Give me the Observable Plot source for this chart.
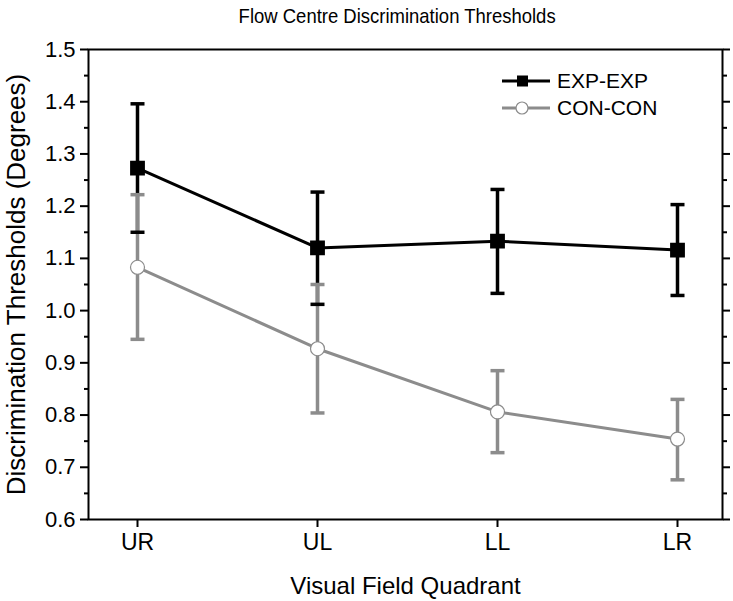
<!DOCTYPE html>
<html><head><meta charset="utf-8">
<script src="https://cdn.jsdelivr.net/npm/d3@7"></script>
<script src="https://cdn.jsdelivr.net/npm/@observablehq/plot@0.6"></script>
<style>
body{margin:0;background:#fff;font-family:"Liberation Sans",Arial,sans-serif;}
#title{width:733px;height:30px;box-sizing:border-box;padding-left:62px;padding-top:1px;text-align:center;font-size:21px;line-height:30px;color:#000;}
#title span{display:inline-block;transform:scaleX(0.88);transform-origin:center;white-space:nowrap;}
</style></head>
<body>
<div id="title"><span>Flow Centre Discrimination Thresholds</span></div>
<div id="chart"></div>
<script>
const quadrants = ["UR", "UL", "LL", "LR"];
const seriesNames = ["EXP-EXP", "CON-CON"];
const expMean = [1.273, 1.120, 1.133, 1.116];
const expHigh = [1.396, 1.227, 1.232, 1.203];
const expLow  = [1.150, 1.012, 1.033, 1.029];
const conMean = [1.083, 0.927, 0.806, 0.754];
const conHigh = [1.222, 1.050, 0.885, 0.830];
const conLow  = [0.945, 0.804, 0.728, 0.676];
const majorTicks = [0.6, 0.7, 0.8, 0.9, 1.0, 1.1, 1.2, 1.3, 1.4, 1.5];
const minorTicks = [0.65, 0.75, 0.85, 0.95, 1.05, 1.15, 1.25, 1.35, 1.45];

const GRAY = "#8c8c8c";
const exp = quadrants.map((q, i) => ({q, m: expMean[i], hi: expHigh[i], lo: expLow[i]}));
const con = quadrants.map((q, i) => ({q, m: conMean[i], hi: conHigh[i], lo: conLow[i]}));
const capSymbol = {draw(ctx, size) { const w = Math.sqrt(size / Math.PI); ctx.moveTo(-w, 0); ctx.lineTo(w, 0); }};
const capsOf = (data, color) => [
  Plot.dot(data, {x: "q", y: "hi", symbol: capSymbol, r: 7, stroke: color, strokeWidth: 3.5, fill: "none"}),
  Plot.dot(data, {x: "q", y: "lo", symbol: capSymbol, r: 7, stroke: color, strokeWidth: 3.5, fill: "none"})
];

const W = 733, H = 571;
const plot = Plot.plot({
  width: W, height: H,
  marginTop: 19, marginBottom: 82, marginLeft: 88, marginRight: 11,
  style: {fontFamily: "'Liberation Sans', Arial, sans-serif", color: "#000", background: "#fff"},
  x: {type: "point", domain: quadrants, padding: 0.26, align: 0.52},
  y: {domain: [0.6, 1.5]},
  marks: [
    Plot.axisY({anchor: "left", ticks: majorTicks, tickSize: 8, tickPadding: 5, tickFormat: d3.format(".1f"), fontSize: 22, label: null, strokeWidth: 2}),
    Plot.axisY({anchor: "left", ticks: minorTicks, tickSize: 4, tickFormat: () => "", label: null, strokeWidth: 2}),
    Plot.axisY({anchor: "right", ticks: majorTicks, tickSize: 7, tickFormat: () => "", label: null, strokeWidth: 2}),
    Plot.axisY({anchor: "right", ticks: minorTicks, tickSize: 4, tickFormat: () => "", label: null, strokeWidth: 2}),
    Plot.axisX({anchor: "bottom", tickSize: 8, tickPadding: 6, fontSize: 23, label: null, strokeWidth: 2}),
    Plot.frame({stroke: "#000", strokeWidth: 2}),
    Plot.ruleX(exp, {x: "q", y1: "lo", y2: "hi", stroke: "#000", strokeWidth: 3.5}),
    Plot.ruleX(con, {x: "q", y1: "lo", y2: "hi", stroke: GRAY, strokeWidth: 3.5}),
    ...capsOf(con, GRAY),
    ...capsOf(exp, "#000"),
    Plot.line(exp, {x: "q", y: "m", stroke: "#000", strokeWidth: 3}),
    Plot.line(con, {x: "q", y: "m", stroke: GRAY, strokeWidth: 3}),
    Plot.dot(exp, {x: "q", y: "m", symbol: "square", r: 7.5, fill: "#000", stroke: "#000"}),
    Plot.dot(con, {x: "q", y: "m", symbol: "circle", r: 7, fill: "#fff", stroke: GRAY, strokeWidth: 1.2}),
    Plot.text(["Discrimination Thresholds (Degrees)"], {frameAnchor: "left", rotate: -90, dx: -72, fontSize: 26, textAnchor: "middle"}),
    Plot.text(["Visual Field Quadrant"], {frameAnchor: "bottom", dy: 74, fontSize: 24, textAnchor: "middle"})
  ]
});
document.getElementById("chart").appendChild(plot);

// legend
const svg = d3.select(plot);
const lg = svg.append("g").attr("font-family", "'Liberation Sans', Arial, sans-serif").attr("font-size", 21).attr("text-anchor", "start");
const legendRows = [
  {name: seriesNames[0], color: "#000", y: 51, sym: "square"},
  {name: seriesNames[1], color: GRAY, y: 78, sym: "circle"}
];
for (const r of legendRows) {
  lg.append("line").attr("x1", 502).attr("x2", 550).attr("y1", r.y).attr("y2", r.y).attr("stroke", r.color).attr("stroke-width", 3);
  if (r.sym === "square") lg.append("rect").attr("x", 517).attr("y", r.y - 5.5).attr("width", 11).attr("height", 11).attr("fill", "#000");
  else lg.append("circle").attr("cx", 522).attr("cy", r.y).attr("r", 6).attr("fill", "#fff").attr("stroke", GRAY).attr("stroke-width", 1.2);
  lg.append("text").attr("x", 557).attr("y", r.y).attr("dy", "0.35em").attr("fill", "#000").text(r.name);
}
</script>
</body></html>
